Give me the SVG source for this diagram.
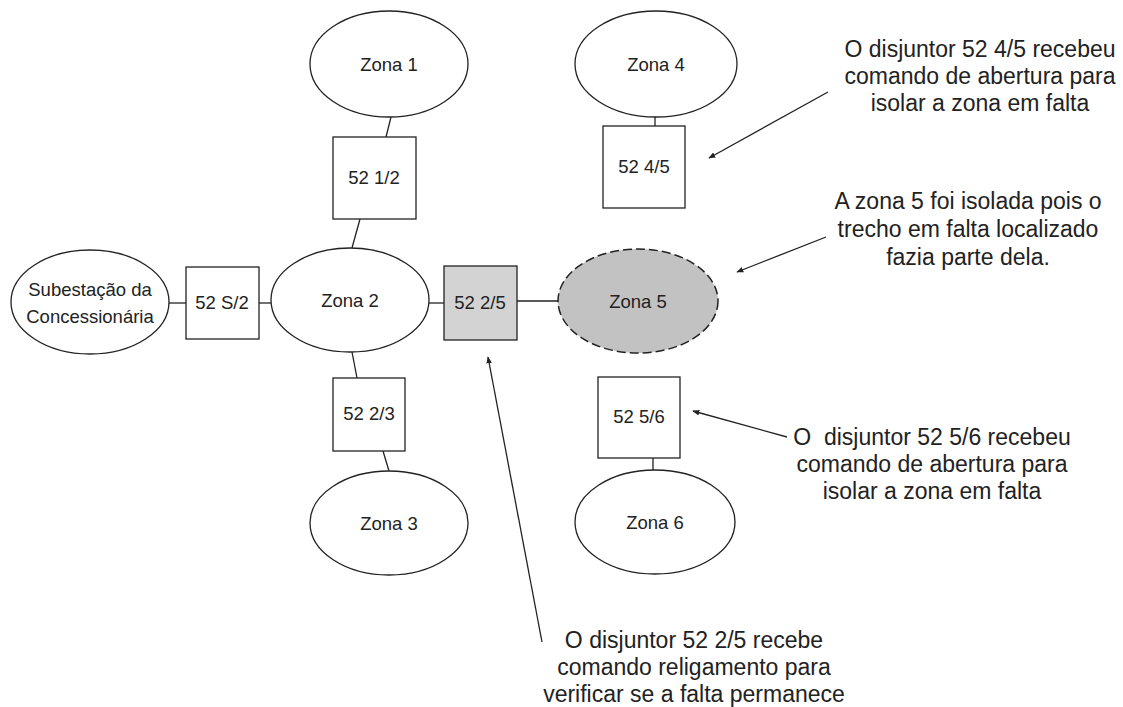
<svg xmlns="http://www.w3.org/2000/svg" width="1123" height="707" viewBox="0 0 1123 707">
<defs>
<style>
.n{fill:#fff;stroke:#222;stroke-width:1.3}
.g{fill:#d3d3d3;stroke:#222;stroke-width:1.3}
.z5{fill:#c2c2c2;stroke:#222;stroke-width:1.5;stroke-dasharray:9 4}
.t{font-family:"Liberation Sans",Arial,sans-serif;font-size:18.5px;fill:#222;text-anchor:middle}
.a{font-family:"Liberation Sans",Arial,sans-serif;font-size:23px;fill:#222;text-anchor:middle}
.c{stroke:#222;stroke-width:1.3;fill:none}
.ar{stroke:#222;stroke-width:1.3;fill:none;marker-end:url(#ah)}
</style>
<marker id="ah" viewBox="0 0 10 10" refX="9" refY="5" markerWidth="7" markerHeight="7" markerUnits="userSpaceOnUse" orient="auto">
<path d="M0,1 L10,5 L0,9 z" fill="#222"/>
</marker>
</defs>
<rect width="1123" height="707" fill="#fff"/>
<g id="connectors">
<line class="c" x1="391" y1="117" x2="386" y2="137"/>
<line class="c" x1="360" y1="219" x2="352" y2="248"/>
<line class="c" x1="169" y1="303" x2="186" y2="303"/>
<line class="c" x1="259" y1="303" x2="271" y2="303"/>
<line class="c" x1="429" y1="303" x2="444" y2="303"/>
<line class="c" x1="517" y1="301" x2="558" y2="301"/>
<line class="c" x1="352" y1="352" x2="357" y2="378"/>
<line class="c" x1="383" y1="451" x2="389" y2="471"/>
<line class="c" x1="655" y1="117" x2="655" y2="126"/>
<line class="c" x1="653" y1="458" x2="653" y2="470"/>
<line class="ar" x1="828" y1="92" x2="709" y2="158"/>
<line class="ar" x1="826" y1="237" x2="737" y2="272"/>
<line class="ar" x1="787" y1="437" x2="693" y2="411"/>
<line class="ar" x1="542" y1="642" x2="488" y2="357"/>
</g>
<g id="zona1"><ellipse class="n" cx="389" cy="64" rx="79" ry="53"/><text class="t" x="389" y="71">Zona 1</text></g>
<g id="b12"><rect class="n" x="333" y="137" width="83" height="82"/><text class="t" x="374" y="184">52 1/2</text></g>
<g id="subestacao"><ellipse class="n" cx="90" cy="302" rx="79" ry="52"/><text class="t" x="90" y="296">Subestação da</text><text class="t" x="90" y="323">Concessionária</text></g>
<g id="bs2"><rect class="n" x="186" y="267" width="73" height="72"/><text class="t" x="222" y="309">52 S/2</text></g>
<g id="zona2"><ellipse class="n" cx="350" cy="300" rx="79" ry="52"/><text class="t" x="350" y="307">Zona 2</text></g>
<g id="b25"><rect class="g" x="444" y="266" width="73" height="74"/><text class="t" x="480" y="309">52 2/5</text></g>
<g id="zona5"><ellipse class="z5" cx="638" cy="301" rx="80" ry="52"/><text class="t" x="638" y="308">Zona 5</text></g>
<g id="b23"><rect class="n" x="333" y="378" width="72" height="73"/><text class="t" x="369" y="420">52 2/3</text></g>
<g id="zona3"><ellipse class="n" cx="389" cy="523" rx="79" ry="52"/><text class="t" x="389" y="530">Zona 3</text></g>
<g id="zona4"><ellipse class="n" cx="656" cy="64" rx="81" ry="53"/><text class="t" x="656" y="71">Zona 4</text></g>
<g id="b45"><rect class="n" x="603" y="126" width="82" height="82"/><text class="t" x="644" y="173">52 4/5</text></g>
<g id="b56"><rect class="n" x="598" y="377" width="82" height="81"/><text class="t" x="639" y="423">52 5/6</text></g>
<g id="zona6"><ellipse class="n" cx="655" cy="522" rx="80" ry="52"/><text class="t" x="655" y="529">Zona 6</text></g>
<g id="nota1"><text class="a" x="980" y="57">O disjuntor 52 4/5 recebeu</text><text class="a" x="980" y="84">comando de abertura para</text><text class="a" x="980" y="111">isolar a zona em falta</text></g>
<g id="nota2"><text class="a" x="968" y="209">A zona 5 foi isolada pois o</text><text class="a" x="968" y="237">trecho em falta localizado</text><text class="a" x="968" y="265">fazia parte dela.</text></g>
<g id="nota3"><text class="a" x="932" y="445" style="white-space:pre">O  disjuntor 52 5/6 recebeu</text><text class="a" x="932" y="472">comando de abertura para</text><text class="a" x="932" y="499">isolar a zona em falta</text></g>
<g id="nota4"><text class="a" x="694" y="648">O disjuntor 52 2/5 recebe</text><text class="a" x="694" y="675">comando religamento para</text><text class="a" x="694" y="702">verificar se a falta permanece</text></g>
</svg>
